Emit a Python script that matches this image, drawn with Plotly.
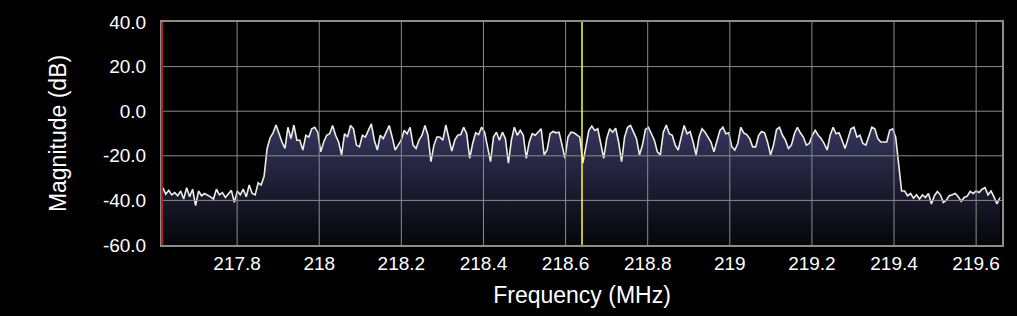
import numpy as np
import plotly.graph_objects as go

# ---------------- data ----------------
freq_start_mhz = 217.619
freq_stop_mhz = 219.658
center_freq_mhz = 218.64
x_range = [217.617, 219.663]
y_range = [-60, 40]

x_ticks = [217.8, 218.0, 218.2, 218.4, 218.6, 218.8, 219.0, 219.2, 219.4, 219.6]
x_tick_labels = ["217.8", "218", "218.2", "218.4", "218.6", "218.8", "219", "219.2", "219.4", "219.6"]
y_ticks = [-60, -40, -20, 0, 20, 40]
y_tick_labels = ["-60.0", "-40.0", "-20.0", "0.0", "20.0", "40.0"]

magnitude_db = [
    -34.3, -37.2, -35.5, -37.5, -36.5, -37.9, -35.8, -39.4, -34.3, -38.4,
    -35.0, -42.3, -35.8, -37.9, -36.9, -37.5, -38.4, -39.4, -35.0, -37.5,
    -36.5, -38.7, -37.2, -35.5, -40.9, -35.8, -37.5, -35.0, -38.4, -33.1,
    -36.9, -37.5, -32.1, -33.1, -29.2, -16.7, -12.0, -9.7, -6.2, -10.1,
    -13.8, -16.7, -7.2, -12.3, -6.2, -13.0,
    -13.0, -17.4, -10.8, -11.6, -7.9, -7.2, -9.4, -18.2, -13.8, -10.8,
    -10.1, -6.4, -10.8, -13.8, -19.6, -10.1, -11.6, -6.4, -7.9, -15.2,
    -16.0, -10.8, -11.6, -8.6, -5.7, -13.0, -17.4, -10.8, -12.3, -9.4,
    -6.4, -11.6, -17.4, -15.2, -13.0, -8.6, -10.1, -7.2, -15.2, -16.7,
    -13.0, -10.8, -6.4, -10.8, -22.6, -15.2, -11.6,
    -11.6, -13.0, -6.2, -11.6, -17.9, -13.0, -10.8, -10.5, -7.2, -10.1,
    -21.1, -14.5, -9.7, -10.5, -7.2, -9.4, -16.0, -22.6, -11.6, -9.4,
    -13.0, -9.4, -12.3, -23.3, -13.0, -7.2, -10.8, -8.6, -10.8, -21.1,
    -13.8, -10.1, -10.8, -9.4, -7.9, -19.6, -17.4, -10.1, -9.1, -9.7,
    -9.4, -15.2, -21.1, -11.6, -9.4, -9.7, -10.5,
    -11.6, -23.3, -15.2, -8.6, -6.7, -8.6, -7.9, -15.2, -21.1, -12.3,
    -7.9, -9.4, -7.6, -13.8, -22.6, -11.6, -7.2, -6.4, -9.4, -12.3,
    -19.6, -15.2, -8.2, -7.2, -10.1, -13.0, -18.2, -19.6, -9.4, -6.2,
    -10.1, -10.8, -15.2, -17.4, -11.6, -6.4, -10.1, -9.1, -13.8, -19.6,
    -11.6, -7.9, -9.4, -11.6, -13.8, -18.2, -13.0,
    -8.6, -7.2, -10.1, -9.7, -16.0, -17.4, -14.5, -7.2, -9.7, -10.5,
    -12.3, -16.0, -16.0, -10.8, -9.1, -9.7, -13.8, -19.6, -15.2, -8.2,
    -7.2, -10.8, -13.0, -16.7, -15.2, -10.1, -7.2, -9.7, -11.6, -15.2,
    -14.5, -10.8, -8.6, -10.8, -12.3, -14.5, -17.4, -10.8, -7.2, -10.1,
    -9.7, -13.0, -16.7, -12.3, -7.9, -7.2, -11.6,
    -10.8, -14.5, -15.2, -11.1, -7.2, -7.9, -12.3, -13.8, -13.8, -13.8,
    -8.6, -7.9, -11.6, -24.0, -35.8, -35.8, -37.9, -36.9, -39.0, -37.5,
    -39.4, -37.5, -38.7, -36.9, -41.6, -37.9, -36.0, -37.5, -40.9, -39.9,
    -37.9, -37.5, -36.9, -38.4, -40.4, -38.7, -38.1, -36.0, -36.9, -35.8,
    -36.5, -35.0, -34.3, -37.5, -35.8, -38.4, -41.6, -38.7,
]

# FFT bins are evenly spaced between the first and last bin frequency
freq_mhz = np.linspace(freq_start_mhz, freq_stop_mhz, len(magnitude_db))

# ---------------- styling ----------------
FONT = "Liberation Sans, Arial, sans-serif"
GRID = "#8c8c8c"

fig = go.Figure()
fig.add_trace(go.Scatter(
    x=freq_mhz, y=[y_range[0]] * len(freq_mhz), mode="lines",
    line=dict(width=0, color="rgba(0,0,0,0)"), hoverinfo="skip", showlegend=False,
))
fig.add_trace(go.Scatter(
    x=freq_mhz, y=magnitude_db, mode="lines",
    line=dict(color="#eeeee6", width=1.6),
    fill="tonexty",
    fillgradient=dict(type="vertical",
                      colorscale=[[0, "#040407"], [1, "#36365f"]],
                      start=y_range[0], stop=-5),
    showlegend=False,
))

shapes = []
for t in x_ticks:
    shapes.append(dict(type="line", xref="x", yref="paper", x0=t, x1=t, y0=0, y1=1,
                       line=dict(color=GRID, width=1), layer="above"))
for t in y_ticks[1:-1]:
    shapes.append(dict(type="line", xref="paper", yref="y", x0=0, x1=1, y0=t, y1=t,
                       line=dict(color=GRID, width=1), layer="above"))
shapes.append(dict(type="line", xref="x", yref="paper", x0=center_freq_mhz, x1=center_freq_mhz,
                   y0=0, y1=1, line=dict(color="#ffff33", width=1.5), layer="above"))
shapes.append(dict(type="line", xref="paper", yref="paper", x0=0, x1=0, y0=0, y1=1,
                   line=dict(color="#b81c1c", width=2), layer="above"))

fig.update_layout(
    width=1017, height=316, autosize=False,
    margin=dict(l=162, r=15, t=18, b=71, pad=0),
    paper_bgcolor="black", plot_bgcolor="black",
    font=dict(family=FONT, color="white"),
    shapes=shapes,
    xaxis=dict(
        range=x_range, tickmode="array", tickvals=x_ticks, ticktext=x_tick_labels,
        showgrid=False, zeroline=False, showline=True, mirror=True,
        linecolor=GRID, linewidth=2, ticks="", ticklabelstandoff=0,
        tickfont=dict(family=FONT, size=19, color="white"),
        title=dict(text="Frequency (MHz)", font=dict(family=FONT, size=23, color="white"),
                   standoff=14),
    ),
    yaxis=dict(
        range=y_range, tickmode="array", tickvals=y_ticks, ticktext=y_tick_labels,
        showgrid=False, zeroline=False, showline=True, mirror=True,
        linecolor=GRID, linewidth=2, ticks="", ticklabelstandoff=10,
        tickfont=dict(family=FONT, size=19, color="white"),
        title=dict(text="Magnitude (dB)", font=dict(family=FONT, size=23, color="white"),
                   standoff=30),
    ),
)

fig.write_html("out.html", config={"displayModeBar": False})
